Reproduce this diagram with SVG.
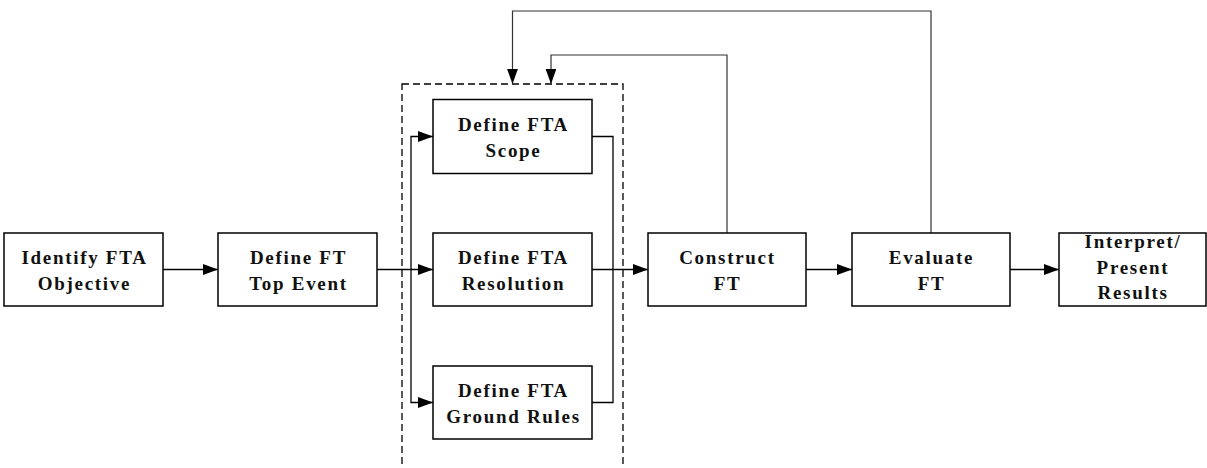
<svg xmlns="http://www.w3.org/2000/svg" width="1207" height="468" viewBox="0 0 1207 468">
<style>
.box{fill:#fff;stroke:#000;stroke-width:1.5}
.t{font-family:"Liberation Serif","Times New Roman",serif;font-weight:bold;font-size:19px;letter-spacing:1.7px;text-anchor:middle;fill:#111}
.ln{fill:none;stroke:#000;stroke-width:1.3}
.fb{fill:none;stroke:#333;stroke-width:1.2}
.dash{fill:none;stroke:#000;stroke-width:1.3;stroke-dasharray:7,4}
</style>
<defs>
<marker id="ah" markerWidth="16" markerHeight="12" refX="15" refY="5.4" orient="auto" markerUnits="userSpaceOnUse">
<path d="M0,0 L15,5.4 L0,10.8 Z" fill="#000"/>
</marker>
</defs>
<rect class="dash" x="402" y="84" width="221" height="420"/>
<g id="connectors">
<path class="ln" d="M163,269.5 H218" marker-end="url(#ah)"/>
<path class="ln" d="M377,269.5 H433" marker-end="url(#ah)"/>
<path class="ln" d="M411,269.5 V136.5 H433" marker-end="url(#ah)"/>
<path class="ln" d="M411,269.5 V402.5 H433" marker-end="url(#ah)"/>
<path class="ln" d="M592,136.5 H613 V402.5 H592"/>
<path class="ln" d="M592,269.5 H648" marker-end="url(#ah)"/>
<path class="ln" d="M806,269.5 H852" marker-end="url(#ah)"/>
<path class="ln" d="M1010,269.5 H1059" marker-end="url(#ah)"/>
<path class="fb" d="M727,233 V55 H551 V84" marker-end="url(#ah)"/>
<path class="fb" d="M931,233 V11 H512.5 V84" marker-end="url(#ah)"/>
</g>
<g id="identify">
<rect class="box" x="4" y="233" width="159" height="73"/>
<text class="t" x="84.5" y="264">Identify FTA</text>
<text class="t" x="84.5" y="290">Objective</text>
</g>
<g id="topevent">
<rect class="box" x="218" y="233" width="159" height="73"/>
<text class="t" x="298.5" y="264">Define FT</text>
<text class="t" x="298.5" y="290">Top Event</text>
</g>
<g id="scope">
<rect class="box" x="433" y="99.5" width="159" height="74"/>
<text class="t" x="513.5" y="130.5">Define FTA</text>
<text class="t" x="513.5" y="156.5">Scope</text>
</g>
<g id="resolution">
<rect class="box" x="433" y="233" width="159" height="73"/>
<text class="t" x="513.5" y="264">Define FTA</text>
<text class="t" x="513.5" y="290">Resolution</text>
</g>
<g id="groundrules">
<rect class="box" x="433" y="366" width="159" height="73"/>
<text class="t" x="513.5" y="397">Define FTA</text>
<text class="t" x="513.5" y="423">Ground Rules</text>
</g>
<g id="construct">
<rect class="box" x="648" y="233" width="158" height="73"/>
<text class="t" x="727.5" y="264">Construct</text>
<text class="t" x="727.5" y="290">FT</text>
</g>
<g id="evaluate">
<rect class="box" x="852" y="233" width="158" height="73"/>
<text class="t" x="931.5" y="264">Evaluate</text>
<text class="t" x="931.5" y="290">FT</text>
</g>
<g id="interpret">
<rect class="box" x="1059" y="233" width="147" height="73"/>
<text class="t" x="1133" y="248">Interpret/</text>
<text class="t" x="1133" y="273.5">Present</text>
<text class="t" x="1133" y="299">Results</text>
</g>
</svg>
